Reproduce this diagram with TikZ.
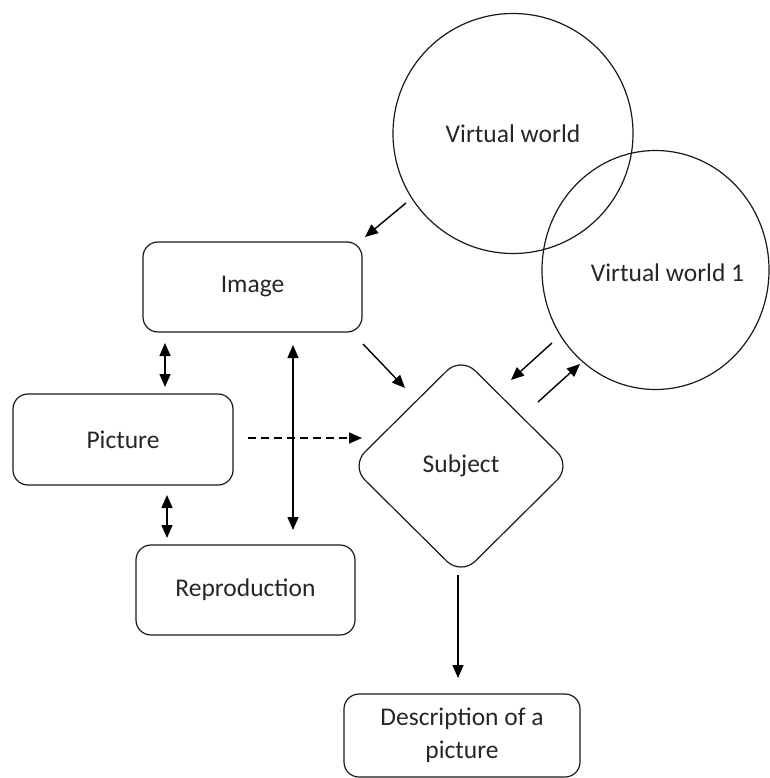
\documentclass[tikz,border=0pt]{standalone}
\usepackage{fontspec}
\setmainfont{Carlito}
\usetikzlibrary{shapes.geometric,arrows.meta,calc}
\begin{document}
\begin{tikzpicture}[x=1pt,y=-1pt,
  every node/.style={font=\fontsize{25.5}{33}\selectfont, text=black!85},
  box/.style={draw=black!90, line width=1.2pt, rounded corners=15pt, minimum width=219pt, minimum height=90pt, inner sep=0pt, align=center},
  world/.style={draw=black!90, line width=1.2pt, inner sep=0pt},
  subjbox/.style={draw=black!90, line width=1.2pt, shape=diamond, rounded corners=20pt, minimum width=221pt, minimum height=219pt, inner sep=0pt},
  arr/.style={draw=black, line width=1.4pt, -{Triangle[length=13pt,width=11pt]}},
  darr/.style={draw=black, line width=1.4pt, {Triangle[length=13pt,width=11pt]}-{Triangle[length=13pt,width=11pt]}},
  dasharr/.style={arr, dash pattern=on 8pt off 5pt}
]
\useasboundingbox (0,0) rectangle (769,778);

\node[world, circle, minimum size=240pt] (vw) at (513,133.5) {Virtual world};
\node[world, ellipse, minimum width=227pt, minimum height=239pt,
      label={[xshift=12pt,yshift=-3pt]center:Virtual world 1}] (vw1) at (655.5,270) {};

\node[box] (img) at (252.5,287) {Image};
\node[box, minimum width=220pt, minimum height=91pt] (pic) at (123,439.5) {Picture};
\node[box] (rep) at (245.5,590) {Reproduction};
\node[box, minimum width=236pt, minimum height=83pt] (desc) at (462,735.5) {Description of a\\picture};
\node[subjbox] (subj) at (461,466) {Subject};

% connectors
\draw[arr] ($(vw.center)+(-107,69.5)$) -- ($(img.center)+(112.5,-50)$);
\draw[arr] ($(img.center)+(110.5,57)$) -- ($(subj.center)+(-56,-78)$);
\draw[arr] ($(vw1.center)+(-103.5,73)$) -- ($(subj.center)+(50,-86)$);
\draw[arr] ($(subj.center)+(77,-64)$) -- ($(vw1.center)+(-75.5,94)$);
\draw[darr] ($(img.center)+(-87.5,56)$) -- ($(pic.center)+(42,-52.5)$);
\draw[darr] ($(pic.center)+(44,55.5)$) -- ($(rep.center)+(-78.5,-52)$);
\draw[darr] ($(img.center)+(40.5,58)$) -- ($(rep.center)+(47.5,-60)$);
\draw[dasharr] ($(pic.center)+(125,-1.5)$) -- ($(subj.center)+(-99,-28)$);
\draw[arr] ($(subj.center)+(-3,109)$) -- ($(desc.center)+(-4,-57.5)$);
\end{tikzpicture}
\end{document}
